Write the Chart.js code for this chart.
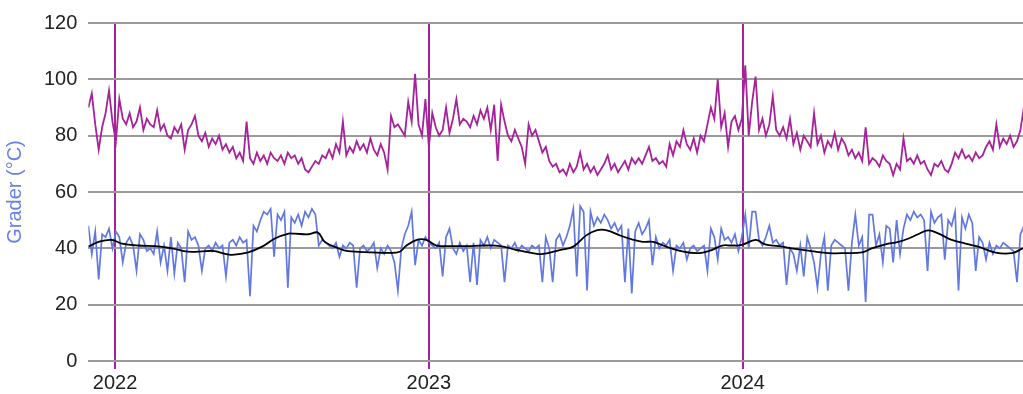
<!DOCTYPE html>
<html>
<head>
<meta charset="utf-8">
<script src="https://cdn.jsdelivr.net/npm/chart.js@4.4.1/dist/chart.umd.min.js"></script>
<style>
  html, body { margin: 0; padding: 0; background: #fff; }
  #wrap { width: 1023px; height: 394px; }
</style>
</head>
<body>
<div id="wrap"><canvas id="chart"></canvas></div>
<script>
// dager regnet fra 2022-01-01, én verdi per 4. dag fra 1. des 2021
const startDay = -31;
const stepDays = 4;

const tickDays = [0, 365, 730];
const tickLabels = ['2022', '2023', '2024'];

const maxValues = [
  90, 95, 84, 75, 83, 88, 96, 85, 78, 93,
  86, 84, 88, 83, 85, 90, 82, 86, 84, 83,
  89, 82, 84, 80, 79, 83, 81, 84, 75, 82,
  84, 87, 80, 78, 81, 76, 79, 77, 80, 75,
  77, 74, 76, 72, 74, 71, 85, 72, 70, 74,
  71, 73, 70, 74, 72, 71, 73, 70, 74, 72,
  73, 70, 72, 68, 67, 69, 71, 70, 73, 72,
  75, 72, 77, 74, 85, 73, 76, 74, 78, 75,
  77, 74, 79, 75, 73, 77, 74, 68, 87, 83,
  84,
  82, 80, 92, 85, 102, 84, 80, 93, 76, 88,
  83, 80, 82, 90, 81, 86, 93, 84, 86, 85,
  83, 87, 84, 89, 86, 90, 82, 91, 71, 91,
  85, 80, 78, 82, 79, 76, 70, 84, 80, 82,
  78, 74, 76, 71, 69, 70, 67, 68, 66, 70,
  67, 69, 74, 68, 70, 67, 69, 66, 68, 70,
  73, 68, 70, 67, 69, 71, 68, 72, 70, 72,
  70, 73, 76, 71, 72, 70, 71, 69, 77, 73,
  78, 76, 82, 77, 75, 79, 74, 80, 78, 84,
  90,
  86, 100, 83, 88, 76, 85, 87, 82, 86, 105,
  80, 92, 101, 82, 86, 80, 84, 94, 82, 80,
  83, 79, 86, 77, 81, 75, 80, 78, 76, 88,
  77, 80, 74, 78, 76, 81, 75, 79, 77, 73,
  75, 72, 74, 71, 83, 70, 72, 71, 69, 73,
  71, 70, 66, 70, 68, 79, 71, 72, 70, 73,
  70, 71, 68, 66, 70, 69, 71, 68, 67, 70,
  74, 72, 75, 72, 73, 71, 74, 72, 73, 76,
  78, 75, 84, 76, 79, 77, 80, 76, 78, 82,
  90
];

const dailyValues = [
  48, 38, 46, 29, 45, 44, 47, 40, 46, 44,
  35, 42, 44, 41, 32, 45, 43, 39, 40, 38,
  46, 35, 41, 32, 44, 31, 42, 40, 28, 46,
  43, 44, 41, 32, 40, 41, 39, 42, 40, 41,
  30, 42, 43, 41, 44, 42, 43, 23, 48, 46,
  50, 53, 52, 54, 37, 52, 50, 53, 26, 51,
  49, 52, 48, 53, 51, 54, 52, 41, 43, 42,
  41, 40, 42, 37, 41, 40, 42, 41, 26, 40,
  41, 39, 40, 42, 33, 40, 38, 41, 39, 35,
  25,
  40, 45, 48, 53, 34, 43, 41, 44, 42, 41,
  40, 42, 30, 44, 47, 40, 38, 42, 39, 41,
  28, 42, 27, 43, 41, 44, 40, 43, 42, 41,
  28, 41, 40, 42, 39, 41, 40, 39, 41, 40,
  41, 28, 44, 40, 28, 43, 45, 41, 44, 48,
  54, 30, 55, 53, 25, 53, 48, 51, 49, 52,
  50, 47, 49, 46, 48, 28, 47, 24, 46, 49,
  45, 47, 50, 34, 44, 40, 42, 41, 43, 32,
  41, 40, 42, 36, 40, 41, 39, 40, 41, 32,
  47,
  44, 36, 47, 43, 44, 42, 45, 39, 44, 52,
  40, 53, 53, 43, 41, 44, 48, 42, 43, 41,
  42, 27, 40, 38, 32, 41, 30, 44, 40, 35,
  26, 38, 44, 25, 41, 43, 42, 41, 40, 25,
  42, 52, 41, 44, 21, 52, 52, 41, 45, 35,
  48, 47, 35, 50, 38, 47, 52, 50, 53, 51,
  52, 50, 32, 53, 49, 51, 52, 36, 50, 48,
  53, 25, 51, 47, 52, 49, 32, 44, 42, 36,
  42, 38, 41, 40, 42, 41, 40, 39, 28, 45,
  48
];

const trendDays = [
  -31, -19, -4, 8, 27, 47, 66, 85, 105, 116, 128, 136, 155, 171, 186, 202, 209, 225, 236, 244, 260, 271, 298, 318,
  331, 339, 351, 362, 374, 390, 409, 428, 448, 467, 486, 498, 517, 533, 548, 560, 572, 587, 603, 614, 626, 641, 661, 680,
  694, 706, 717, 729, 745, 756, 772, 791, 810, 830, 849, 869, 880, 896, 911, 923, 934, 946, 958, 973, 989, 1004, 1024, 1043, 1056
];
const trendValues = [
  40.6, 42.3, 43, 41.7, 41, 40.8, 40, 38.8, 39, 39, 38, 37.7, 38.6, 40.6, 43.5, 45.2, 45.2, 45, 45.6, 42.3, 40, 39, 38.6, 38.4,
  38.8, 41, 43, 43, 41, 40.8, 40.8, 41, 40.8, 39.4, 38.3, 38, 39.4, 40.6, 44.6, 46.4, 46.4, 44.6, 43, 42.3, 42.3, 40.6, 38.8, 38.3,
  39.4, 41, 41, 41.2, 43, 41.4, 40.8, 39.8, 39, 38.3, 38.3, 38.6, 40, 41.4, 42.3, 43.5, 45, 46.4, 45.2, 43, 41.7, 40.6, 38.5, 38.3, 40
];

const purple = '#a5229a';
const blue = '#6178e0';

function toPoints(values) {
  return values.map((v, i) => ({ x: startDay + i * stepDays, y: v }));
}

const ctx = document.getElementById('chart').getContext('2d');
new Chart(ctx, {
  type: 'line',
  data: {
    datasets: [
      {
        label: 'Maks',
        data: toPoints(maxValues),
        borderColor: purple,
        borderWidth: 1.8,
        pointRadius: 0,
        tension: 0
      },
      {
        label: 'Trend',
        data: trendDays.map((d, i) => ({ x: d, y: trendValues[i] })),
        borderColor: '#000000',
        borderWidth: 1.8,
        pointRadius: 0,
        tension: 0.4
      },
      {
        label: 'Døgn',
        data: toPoints(dailyValues),
        borderColor: blue,
        borderWidth: 1.7,
        pointRadius: 0,
        tension: 0
      }
    ]
  },
  options: {
    responsive: true,
    maintainAspectRatio: false,
    animation: false,
    layout: { padding: { top: 10, right: 0, left: 3, bottom: -3 } },
    plugins: {
      legend: { display: false },
      tooltip: { enabled: false }
    },
    scales: {
      x: {
        type: 'linear',
        min: -31,
        max: 1056,
        z: 1,
        afterBuildTicks: axis => {
          axis.ticks = tickDays.map(v => ({ value: v }));
        },
        ticks: {
          autoSkip: false,
          maxRotation: 0,
          color: '#222',
          font: { family: 'Liberation Sans, Arial', size: 20 },
          padding: 2,
          callback: v => tickLabels[tickDays.indexOf(v)]
        },
        grid: { color: purple, lineWidth: 2, tickLength: 8 },
        border: { display: false }
      },
      y: {
        min: 0,
        max: 120,
        ticks: {
          stepSize: 20,
          color: '#222',
          font: { family: 'Liberation Sans, Arial', size: 20 },
          padding: 11
        },
        grid: { color: '#9a9a9a', lineWidth: 2, drawTicks: false },
        border: { display: false },
        title: {
          display: true,
          text: 'Grader (°C)',
          color: '#6b80e6',
          font: { family: 'Liberation Sans, Arial', size: 20 },
          padding: { top: 0, bottom: 6 }
        }
      }
    }
  }
});
</script>
</body>
</html>
